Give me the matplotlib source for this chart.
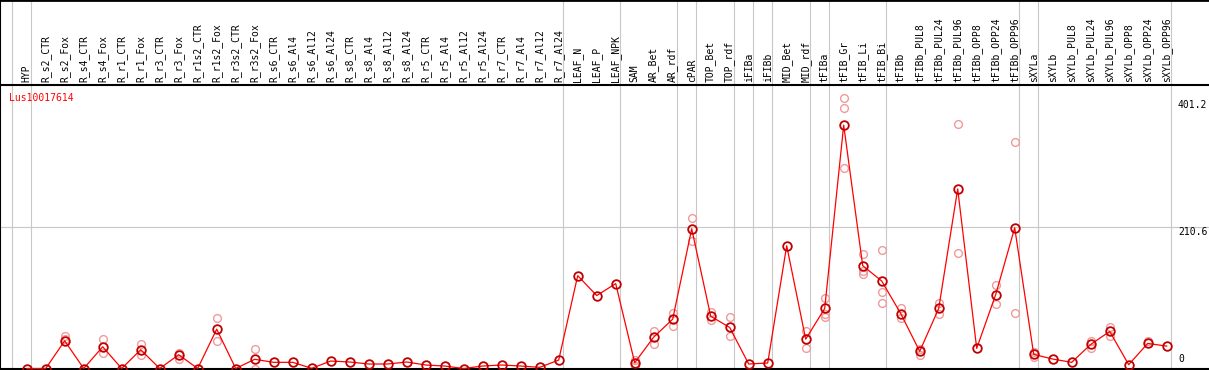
import matplotlib
matplotlib.use("Agg")
import matplotlib.pyplot as plt

# ── datos ───────────────────────────────────────────────
gene_id = "Lus10017614"

muestras = [
    "HYP",
    "R_s2_CTR", "R_s2_Fox", "R_s4_CTR", "R_s4_Fox", "R_r1_CTR", "R_r1_Fox",
    "R_r3_CTR", "R_r3_Fox", "R_r1s2_CTR", "R_r1s2_Fox", "R_r3s2_CTR", "R_r3s2_Fox",
    "R_s6_CTR", "R_s6_Al4", "R_s6_Al12", "R_s6_Al24",
    "R_s8_CTR", "R_s8_Al4", "R_s8_Al12", "R_s8_Al24",
    "R_r5_CTR", "R_r5_Al4", "R_r5_Al12", "R_r5_Al24",
    "R_r7_CTR", "R_r7_Al4", "R_r7_Al12", "R_r7_Al24",
    "LEAF_N", "LEAF_P", "LEAF_NPK",
    "SAM", "AR_Bet", "AR_rdf", "cPAR", "TOP_Bet", "TOP_rdf",
    "iFIBa", "iFIBb", "MID_Bet", "MID_rdf", "tFIBa",
    "tFIB_Gr", "tFIB_Li", "tFIB_Bi", "tFIBb",
    "tFIBb_PUL8", "tFIBb_PUL24", "tFIBb_PUL96",
    "tFIBb_OPP8", "tFIBb_OPP24", "tFIBb_OPP96",
    "sXYLa", "sXYLb",
    "sXYLb_PUL8", "sXYLb_PUL24", "sXYLb_PUL96",
    "sXYLb_OPP8", "sXYLb_OPP24", "sXYLb_OPP96",
]

media = [
    0,
    0, 41.3, 0, 32.4, 0, 28.0, 0, 20.5, 0, 58.7, 0, 13.7,
    9.2, 9.2, 0.3, 11.1,
    9.7, 6.7, 6.7, 9.7,
    5.2, 3.7, 0.0, 3.7,
    5.2, 3.7, 1.7, 12.6,
    138.5, 108.8, 126.6,
    8.6, 46.8, 73.6, 208.4, 78.0, 61.2,
    6.7, 8.2, 183.1, 43.8, 89.5,
    363.0, 153.4, 130.5, 82.0,
    25.6, 89.5, 267.8,
    30.0, 110.3, 209.9,
    21.1, 14.1,
    9.2, 35.9, 55.3,
    5.7, 37.4, 33.4,
]

replicas = [
    [],
    [], [47.9, 43.9], [], [43.8, 22.6], [], [36.4, 20.1],
    [], [23.5, 14.1], [], [75.1, 41.3], [], [28.5, 0.0],
    [], [], [], [],
    [], [], [], [],
    [], [], [], [],
    [], [], [], [],
    [], [], [],
    [12.6, 4.2], [55.7, 35.9], [82.5, 63.6], [224.7, 190.0], [84.5, 72.1], [76.1, 47.9],
    [], [], [], [55.5, 30.0], [105.8, 76.1, 81.0],
    [403.1, 388.2, 299.0], [170.6, 145.4, 140.9], [177.2, 114.7, 98.4], [90.9, 74.6],
    [29.0, 20.5], [97.4, 81.0], [364.4, 172.7],
    [], [125.1, 96.9], [337.7, 83.5],
    [25.0, 17.6], [],
    [], [41.3, 31.0], [62.2, 47.9],
    [], [41.3], [],
]

# fin de cada grupo (línea vertical gris)
separadores = [-1, 0, 28, 31, 34, 35, 37, 38, 39, 41, 42, 45, 52, 53, 60]

ticks_der = [401.2, 210.6]

# ── figura ───────────────────────────────────────────────
W, H = 1209, 370
X0, DX = 26.7, 19.0          # px del primer punto y paso entre columnas
Y0, SY = 369.5, 0.6728       # px del cero y px por unidad
HEADER = 85

fuente = "DejaVu Sans Mono"
gris = "#c8c8c8"

fig = plt.figure(figsize=(W / 100, H / 100), dpi=100)

xlim = (-X0 / DX, (W - X0) / DX)
ylim = (-(Y0 - 369) / SY, (Y0 - HEADER) / SY)

ax = fig.add_axes([0, 1 / H, 1, (369 - HEADER) / H])
hd = fig.add_axes([0, (H - HEADER) / H, 1, HEADER / H])

for a in (ax, hd):
    a.set_xlim(*xlim)
    a.set_xticks([])
    a.set_yticks([])
    for s in a.spines.values():
        s.set_visible(False)
    a.spines["left"].set_visible(True)
    a.spines["left"].set_color("black")
    a.spines["left"].set_linewidth(1.5)

ax.set_ylim(*ylim)
ax.spines["bottom"].set_visible(True)
ax.spines["bottom"].set_linewidth(1.5)
hd.set_ylim(0, 1)
hd.spines["top"].set_visible(True)
hd.spines["top"].set_linewidth(2)
hd.spines["bottom"].set_visible(True)
hd.spines["bottom"].set_linewidth(1.5)

# separadores verticales
for s in separadores:
    xs = s + 4 / DX
    ax.axvline(xs, color=gris, lw=0.8, zorder=0)
    hd.axvline(xs, color=gris, lw=0.8, zorder=0)

ax.axhline(ticks_der[1], color=gris, lw=0.8, zorder=0)

# réplicas
for i, reps in enumerate(replicas):
    if reps:
        ax.plot([i] * len(reps), reps, linestyle="none", marker="o",
                markersize=5.6, markerfacecolor="none", markeredgecolor="#f09a9a",
                markeredgewidth=1.0, zorder=2, clip_on=False)

# medias
x = list(range(len(media)))
ax.plot(x, media, color="red", lw=0.9, zorder=3, clip_on=False)
ax.plot(x, media, linestyle="none", marker="o", markersize=6.2,
        markerfacecolor="none", markeredgecolor="#c00000", markeredgewidth=1.3,
        zorder=4, clip_on=False)

# etiquetas de columnas
for i, nombre in enumerate(muestras):
    hd.text(i, 0.03, nombre, rotation=90, ha="center", va="bottom",
            fontsize=7, family=fuente, color="black")

# eje derecho
xt = (1178 - X0) / DX
for v in ticks_der:
    ax.text(xt, v, f"{v}", ha="left", va="top", fontsize=7, family=fuente)
ax.annotate("0", (xt, 0), xytext=(0, 3), textcoords="offset points",
            ha="left", va="bottom", fontsize=7, family=fuente)

ax.text((9.3 - X0) / DX, (Y0 - 97.7) / SY, gene_id, ha="left", va="center",
        fontsize=7, family=fuente, color="red")

fig.savefig("out.png", dpi=100)
